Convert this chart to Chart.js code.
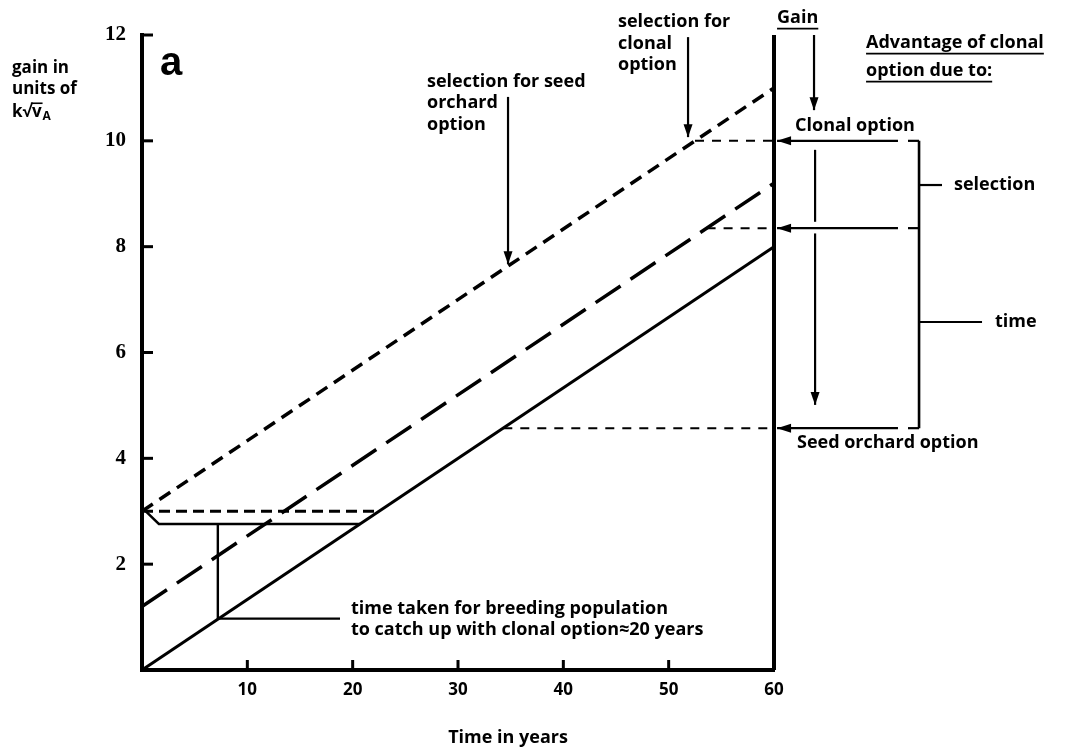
<!DOCTYPE html>
<html>
<head>
<meta charset="utf-8">
<script src="https://cdn.jsdelivr.net/npm/chart.js@4.4.1/dist/chart.umd.min.js"></script>
<style>
  html, body { margin: 0; background: #fff; }
  #wrap { width: 1066px; height: 754px; }
</style>
</head>
<body>
<div id="wrap"><canvas id="gainChart"></canvas></div>
<script>
// gain in units of k*sqrt(vA) against time in years
const clonalYears   = [0, 60];
const clonalGain    = [3.0, 11.0];
const breedingYears = [0, 60];
const breedingGain  = [1.2, 9.2];
const seedYears     = [0, 60];
const seedGain      = [0, 8];

// start-up lines near the origin
const startYears = [0, 1.6, 20.7];
const startGain  = [3.07, 2.76, 2.76];
const levelYears = [0, 22.5];
const levelGain3 = [3.0, 3.0];
const catchYears = [7.2, 7.2, 18.8];
const catchGain  = [2.76, 0.97, 0.97];

const readGain  = [10.0, 8.35, 4.57];
const readStart = [52.5, 53.6, 34.3];

const xTicks = [10, 20, 30, 40, 50, 60];
const yTicks = [2, 4, 6, 8, 10, 12];

const pts = (xs, ys) => xs.map((v, i) => ({ x: v, y: ys[i] }));

function lineSet(data, width, dash) {
    return { data, showLine: true, borderColor: '#000', borderWidth: width, clip: false,
             borderDash: dash || [], pointRadius: 0, fill: false, tension: 0 };
}

const datasets = [
    lineSet(pts(clonalYears, clonalGain), 3.5, [13, 8]),
    lineSet(pts(breedingYears, breedingGain), 3.5, [30, 12]),
    lineSet(pts(seedYears, seedGain), 3),
    lineSet(pts(startYears, startGain), 2.4),
    lineSet(pts(levelYears, levelGain3), 3, [11, 6]),
    lineSet(pts(catchYears, catchGain), 2.4),
    lineSet([{ x: 60, y: 0 }, { x: 60, y: 12 }], 4)
];
readGain.forEach((g, i) => datasets.push(lineSet(pts([readStart[i], 60], [g, g]), 2, [9, 8])));

const FONT = "'Open Sans', 'DejaVu Sans', sans-serif";

const annotate = {
    id: 'annotate',
    afterDraw(chart) {
        const { ctx, scales: { x, y } } = chart;
        const X = v => x.getPixelForValue(v), Y = v => y.getPixelForValue(v);
        ctx.save();
        ctx.strokeStyle = '#000';
        ctx.fillStyle = '#000';

        const seg = (x1, y1, x2, y2, w) => {
            ctx.lineWidth = w || 2.2;
            ctx.beginPath(); ctx.moveTo(X(x1), Y(y1)); ctx.lineTo(X(x2), Y(y2)); ctx.stroke();
        };
        const head = (px, py, dir) => {   // dir: 'down' or 'left'
            ctx.beginPath();
            if (dir === 'down') { ctx.moveTo(px, py); ctx.lineTo(px - 4.5, py - 13); ctx.lineTo(px + 4.5, py - 13); }
            else { ctx.moveTo(px, py); ctx.lineTo(px + 14, py - 4.5); ctx.lineTo(px + 14, py + 4.5); }
            ctx.closePath(); ctx.fill();
        };
        const arrowDown = (xv, y1, y2) => { seg(xv, y1, xv, y2); head(X(xv), Y(y2), 'down'); };
        const arrowLeft = (x1, x2, yv) => { seg(x1, yv, x2, yv); head(X(x2), Y(yv), 'left'); };
        const text = (s, xv, yv, size, underline) => {
            ctx.font = `bold ${size}px ${FONT}`;
            ctx.textAlign = 'left'; ctx.textBaseline = 'middle';
            ctx.fillText(s, X(xv), Y(yv));
            if (underline) {
                const w = ctx.measureText(s).width;
                ctx.lineWidth = 1.8;
                ctx.beginPath(); ctx.moveTo(X(xv), Y(yv) + size * 0.62); ctx.lineTo(X(xv) + w, Y(yv) + size * 0.62); ctx.stroke();
            }
        };

        // inward tick marks
        ctx.lineWidth = 3;
        xTicks.slice(0, -1).forEach(t => {
            ctx.beginPath(); ctx.moveTo(X(t), Y(0)); ctx.lineTo(X(t), Y(0) - 10); ctx.stroke();
        });
        yTicks.forEach(t => {
            ctx.beginPath(); ctx.moveTo(X(0), Y(t)); ctx.lineTo(X(0) + 11, Y(t)); ctx.stroke();
        });

        // panel letter
        ctx.font = "bold 40px 'Liberation Sans', Arial, sans-serif";
        ctx.textBaseline = 'middle';
        ctx.fillText('a', X(1.7), Y(11.45));

        // y axis title
        text('gain in', -12.34, 11.37, 17);
        text('units of', -12.34, 10.98, 17);
        ctx.font = `bold 17px ${FONT}`;
        const kx = X(-12.34), ky = Y(10.54);
        ctx.fillText('k√v', kx, ky);
        const wk = ctx.measureText('k√').width, wv = ctx.measureText('k√v').width;
        ctx.lineWidth = 1.6;
        ctx.beginPath(); ctx.moveTo(kx + wk - 1, ky - 9); ctx.lineTo(kx + wv + 1, ky - 9); ctx.stroke();
        ctx.font = `bold 12px ${FONT}`;
        ctx.fillText('A', kx + wv + 1, ky + 4);

        // labels above the lines
        text('selection for seed', 27.06, 11.12, 18);
        text('orchard', 27.06, 10.71, 18);
        text('option', 27.06, 10.31, 18);
        arrowDown(34.75, 10.83, 7.67);

        text('selection for', 45.19, 12.25, 18);
        text('clonal', 45.19, 11.84, 18);
        text('option', 45.19, 11.43, 18);
        arrowDown(51.84, 11.96, 10.07);

        // right-hand key
        text('Gain', 60.29, 12.33, 18, true);
        text('Advantage of clonal', 68.74, 11.86, 18, true);
        text('option due to:', 68.74, 11.33, 18, true);
        arrowDown(63.8, 12.0, 10.58);
        text('Clonal option', 62.0, 10.28, 18);
        seg(63.9, 9.83, 63.9, 8.47);
        arrowDown(63.9, 8.25, 5.01);
        text('Seed orchard option', 62.18, 4.29, 18);

        readGain.forEach(g => {
            arrowLeft(71.77, 60.29, g);
            seg(72.72, g, 73.77, g);
        });
        seg(73.77, readGain[0], 73.77, readGain[2], 2.6);
        seg(73.77, 9.165, 75.95, 9.165);
        seg(73.77, 6.576, 79.75, 6.576);
        text('selection', 77.09, 9.165, 18);
        text('time', 80.98, 6.576, 18);

        // catch-up note
        text('time taken for breeding population', 19.84, 1.15, 18);
        text('to catch up with clonal option\u224820 years', 19.84, 0.76, 18);

        // x axis title
        ctx.font = `bold 18px ${FONT}`;
        ctx.textAlign = 'center';
        ctx.fillText('Time in years', X(34.75), Y(-1.29));
        ctx.restore();
    }
};

new Chart(document.getElementById('gainChart'), {
    type: 'scatter',
    data: { datasets },
    options: {
        responsive: true,
        maintainAspectRatio: false,
        animation: false,
        events: [],
        layout: { padding: { left: 0, right: 292, top: 35, bottom: 0 } },
        plugins: { legend: { display: false }, tooltip: { enabled: false } },
        scales: {
            x: {
                type: 'linear', min: 0, max: 60,
                afterFit: s => { s.height = 84; },
                afterBuildTicks: s => { s.ticks = [0].concat(xTicks).map(v => ({ value: v })); },
                grid: { display: false, drawTicks: false },
                border: { display: true, width: 4, color: '#000' },
                ticks: { padding: 10, color: '#000', font: { family: FONT, size: 17, weight: 'bold' },
                         maxRotation: 0, autoSkip: false, callback: v => v === 0 ? '' : v }
            },
            y: {
                type: 'linear', min: 0, max: 12,
                afterFit: s => { s.width = 142; },
                afterBuildTicks: s => { s.ticks = [0].concat(yTicks).map(v => ({ value: v })); },
                grid: { display: false, drawTicks: false },
                border: { display: true, width: 4, color: '#000' },
                ticks: { padding: 16, color: '#000', font: { family: "'Liberation Serif', serif", size: 21, weight: 'bold' },
                         autoSkip: false, callback: v => v === 0 ? '' : v }
            }
        }
    },
    plugins: [annotate]
});
</script>
</body>
</html>
